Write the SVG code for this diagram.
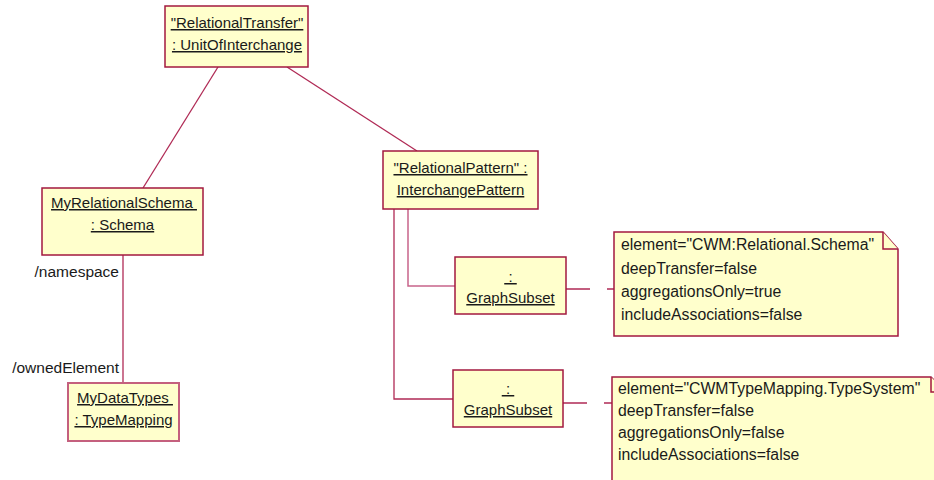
<svg xmlns="http://www.w3.org/2000/svg" width="934" height="480" viewBox="0 0 934 480">
<style>
.box{fill:#FFFFCC;stroke:#A3193F;stroke-width:1.5}
.box2{fill:#FFFFCC;stroke:#C4607E;stroke-width:2}
.t{font-family:"Liberation Sans",Arial,sans-serif;font-size:15px;fill:#1a1a1a;text-anchor:middle;text-decoration:underline;white-space:pre}
.n{font-family:"Liberation Sans",Arial,sans-serif;font-size:15.8px;fill:#1a1a1a}
.lbl{font-family:"Liberation Sans",Arial,sans-serif;font-size:15.5px;fill:#1a1a1a;text-anchor:end}
.c{fill:none;stroke:#B02A55;stroke-width:1.3}
.c2{fill:none;stroke:#C8648A;stroke-width:1.5}
.d{fill:none;stroke:#B02A55;stroke-width:1.3;stroke-dasharray:24 17}
</style>
<g id="connectors">
<line class="c" x1="218" y1="67" x2="143" y2="188"/>
<line class="c" x1="287" y1="67" x2="417" y2="151"/>
<line class="c" x1="123" y1="255" x2="123" y2="383"/>
<polyline class="c2" points="408,209 408,286 455,286"/>
<polyline class="c" points="394,209 394,399 453,399"/>
<line class="d" x1="566" y1="289" x2="614" y2="289"/>
<line class="d" x1="563" y1="403" x2="612" y2="403"/>
<text class="lbl" x="119" y="277">/namespace</text>
<text class="lbl" x="119" y="373">/ownedElement</text>
</g>
<g id="relationalTransfer">
<rect class="box" x="165" y="6" width="143" height="61"/>
<text class="t" x="237" y="28">"RelationalTransfer"</text>
<text class="t" x="237" y="50">: UnitOfInterchange</text>
</g>
<g id="relationalPattern">
<rect class="box" x="383" y="151" width="155" height="58"/>
<text class="t" x="460.5" y="173">"RelationalPattern" :</text>
<text class="t" x="460.5" y="195">InterchangePattern</text>
</g>
<g id="myRelationalSchema">
<rect class="box" x="42" y="188" width="161" height="67"/>
<text class="t" x="124" y="208" xml:space="preserve">MyRelationalSchema </text>
<text class="t" x="122.5" y="230">: Schema</text>
</g>
<g id="myDataTypes">
<rect class="box2" x="68" y="383" width="111" height="58"/>
<text class="t" x="125" y="403" xml:space="preserve">MyDataTypes </text>
<text class="t" x="123.5" y="425">: TypeMapping</text>
</g>
<g id="graphSubset1">
<rect class="box" x="455" y="257" width="111" height="57"/>
<text class="t" x="510.5" y="282" xml:space="preserve"> : </text>
<text class="t" x="510.5" y="303">GraphSubset</text>
</g>
<g id="graphSubset2">
<rect class="box" x="453" y="370" width="110" height="57"/>
<text class="t" x="508" y="394" xml:space="preserve"> : </text>
<text class="t" x="508" y="415">GraphSubset</text>
</g>
<g id="note1">
<path class="box" d="M614,232 H883 L898,249 V336 H614 Z"/>
<path class="box" d="M883,232 V249 H898" fill="none"/>
<text class="n" x="621" y="250">element="CWM:Relational.Schema"</text>
<text class="n" x="621" y="274">deepTransfer=false</text>
<text class="n" x="621" y="297">aggregationsOnly=true</text>
<text class="n" x="621" y="320">includeAssociations=false</text>
</g>
<g id="note2">
<path class="box" d="M612,377 H931 L946,392 V490 H612 Z"/>
<path class="box" d="M931,377 V392 H946" fill="none"/>
<text class="n" x="618" y="394">element="CWMTypeMapping.TypeSystem"</text>
<text class="n" x="618" y="416">deepTransfer=false</text>
<text class="n" x="618" y="438">aggregationsOnly=false</text>
<text class="n" x="618" y="460">includeAssociations=false</text>
</g>
</svg>
